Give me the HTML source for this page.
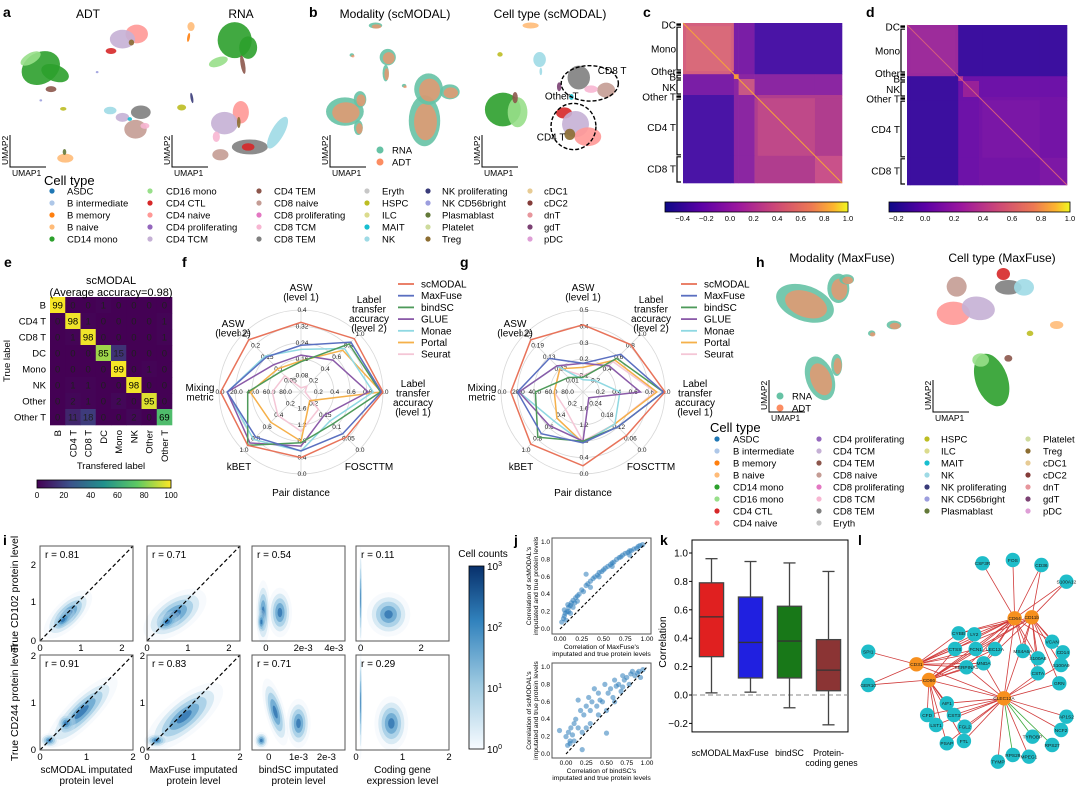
<!DOCTYPE html>
<html><head><meta charset="utf-8"><style>
html,body{margin:0;padding:0;background:#fff;}
svg{display:block;font-family:"Liberation Sans",sans-serif;}
</style></head><body>
<svg id="fig" width="1080" height="787" viewBox="0 0 1080 787" xmlns="http://www.w3.org/2000/svg">
<defs>
<linearGradient id="plasma" x1="0" x2="1" y1="0" y2="0"><stop offset="0" stop-color="#0d0887"/><stop offset="0.2" stop-color="#5c01a6"/><stop offset="0.4" stop-color="#9c179e"/><stop offset="0.6" stop-color="#cc4778"/><stop offset="0.8" stop-color="#ed7953"/><stop offset="0.92" stop-color="#fdb42f"/><stop offset="1" stop-color="#f0f921"/></linearGradient>
<linearGradient id="viridis" x1="0" x2="1" y1="0" y2="0"><stop offset="0" stop-color="#440154"/><stop offset="0.25" stop-color="#3b528b"/><stop offset="0.5" stop-color="#21918c"/><stop offset="0.75" stop-color="#5ec962"/><stop offset="1" stop-color="#fde725"/></linearGradient>
<linearGradient id="blues" x1="0" x2="0" y1="1" y2="0"><stop offset="0" stop-color="#f7fbff"/><stop offset="0.35" stop-color="#9ecae1"/><stop offset="0.7" stop-color="#3182bd"/><stop offset="1" stop-color="#08306b"/></linearGradient>
</defs>
<g font-weight="bold" font-size="14" fill="#000">
<text x="3" y="17">a</text>
<text x="309" y="17">b</text>
<text x="643" y="17">c</text>
<text x="866" y="17">d</text>
<text x="4" y="267">e</text>
<text x="182" y="267">f</text>
<text x="460" y="267">g</text>
<text x="756" y="267">h</text>
<text x="3" y="545">i</text>
<text x="514" y="545">j</text>
<text x="660" y="545">k</text>
<text x="858" y="545">l</text>
</g>
<g font-size="12" text-anchor="middle">
<text x="88" y="18">ADT</text>
<text x="241" y="18">RNA</text>
<text x="395" y="18">Modality (scMODAL)</text>
<text x="550" y="18">Cell type (scMODAL)</text>
<text x="842" y="262">Modality (MaxFuse)</text>
<text x="1002" y="262">Cell type (MaxFuse)</text>
</g>
<g id="root"></g>
</svg>
<script>
const NS='http://www.w3.org/2000/svg';
const root=document.getElementById('root');
function mk(tag,attrs,parent){const e=document.createElementNS(NS,tag);for(const k in attrs)e.setAttribute(k,attrs[k]);(parent||root).appendChild(e);return e;}
function tx(x,y,s,size,extra,parent){const e=mk('text',Object.assign({x:x,y:y,'font-size':size},extra||{}),parent);e.textContent=s;return e;}

/* ---------- DATA ---------- */
const cmLabels=['B','CD4 T','CD8 T','DC','Mono','NK','Other','Other T'];
const cmValues=[[99,0,0,1,0,0,0,0],[0,98,1,0,0,0,0,1],[0,1,98,0,0,0,0,1],[0,0,0,85,15,0,0,0],[0,0,0,0,99,0,1,0],[0,1,1,0,0,98,0,0],[0,2,1,0,2,0,95,0],[0,11,18,0,0,2,0,69]];
const radarAxes=['ASW1','LT2','LT1','FOS','Pair','kBET','Mix','ASW2'];
const methods=['scMODAL','MaxFuse','bindSC','GLUE','Monae','Portal','Seurat'];
const methodColors=['#e8735a','#5a6fc0','#4e9a5a','#8a5aa8','#8fd8e2','#f5b04a','#f4c6d6'];
const fScMODAL=[0.85,0.92,1.0,0.78,0.80,0.92,0.98,0.90];
const fMaxFuse=[0.57,0.86,0.98,0.72,0.72,0.78,0.90,0.60];
const fBindSC=[0.37,0.83,0.97,0.55,0.62,0.92,0.65,0.35];
const fGLUE=[0.45,0.55,0.82,0.40,0.66,0.88,0.90,0.47];
const fMonae=[0.52,0.75,0.88,0.50,0.72,0.82,0.90,0.62];
const fPortal=[0.38,0.72,0.98,0.15,0.60,0.52,0.62,0.40];
const fSeurat=[0.05,0.10,0.05,0.30,0.48,0.40,0.35,0.28];
const gScMODAL=[0.82,0.82,1.0,0.75,0.90,0.90,0.88,0.90];
const gMaxFuse=[0.35,0.65,0.98,0.60,0.62,0.72,0.80,0.58];
const gBindSC=[0.18,0.58,0.98,0.60,0.60,0.78,0.58,0.25];
const gGLUE=[0.35,0.45,0.70,0.10,0.60,0.58,0.78,0.45];
const gMonae=[0.15,0.20,0.45,0.55,0.62,0.50,0.78,0.45];
const gPortal=[0.30,0.55,0.90,0.55,0.62,0.45,0.35,0.40];
const gSeurat=[0.20,0.52,0.88,0.55,0.60,0.30,0.35,0.40];
const fTicks=[['0.08','0.16','0.24','0.32','0.4'],['0.2','0.4','0.6','0.8','1.0'],['0.2','0.4','0.6','0.8','1.0'],['0.2','0.15','0.1','0.05','0.0'],['1.6','1.2','0.8','0.4','0.0'],['0.2','0.4','0.6','0.8','1.0'],['80.0','60.0','40.0','20.0','0.0'],['0.05','0.1','0.15','0.2','0.25']];
const gTicks=[['0.1','0.2','0.3','0.4','0.5'],['0.2','0.4','0.6','0.8','1.0'],['0.2','0.4','0.6','0.8','1.0'],['0.24','0.18','0.12','0.06','0.0'],['1.6','1.2','0.8','0.4','0.0'],['0.2','0.4','0.6','0.8','1.0'],['80.0','60.0','40.0','20.0','0.0'],['0.01','0.07','0.13','0.19','0.25']];
const boxCats=['scMODAL','MaxFuse','bindSC','Protein-coding genes'];
const boxMin=[0.015,0.02,-0.09,-0.21];
const boxQ1=[0.27,0.12,0.12,0.03];
const boxMed=[0.55,0.37,0.38,0.175];
const boxQ3=[0.79,0.69,0.625,0.39];
const boxMax=[0.96,0.94,0.93,0.87];
const boxColors=['#e02020','#2020e0','#187818','#8b3434'];
const jTopX=[0.02,0.04,0.05,0.06,0.08,0.1,0.12,0.13,0.15,0.17,0.2,0.22,0.25,0.27,0.3,0.32,0.35,0.38,0.4,0.43,0.45,0.48,0.5,0.52,0.55,0.58,0.6,0.62,0.65,0.68,0.7,0.72,0.75,0.78,0.8,0.82,0.85,0.88,0.9,0.92,0.95,0.1,0.15,0.3,0.07,0.2,0.45,0.6,0.8,0.35,0.05,0.09,0.12,0.18];
const jTopY=[0.08,0.12,0.15,0.18,0.2,0.25,0.27,0.3,0.33,0.3,0.38,0.4,0.45,0.43,0.5,0.52,0.55,0.58,0.6,0.62,0.65,0.66,0.68,0.7,0.72,0.74,0.76,0.77,0.8,0.82,0.83,0.85,0.87,0.88,0.9,0.9,0.92,0.93,0.95,0.96,0.97,0.2,0.25,0.63,0.1,0.32,0.6,0.72,0.85,0.48,0.22,0.28,0.18,0.36];
const jBotX=[-0.08,0.0,0.02,0.03,0.05,0.06,0.08,0.1,0.12,0.15,0.18,0.2,0.22,0.25,0.28,0.3,0.32,0.35,0.38,0.4,0.42,0.45,0.48,0.5,0.52,0.55,0.58,0.6,0.62,0.65,0.68,0.7,0.72,0.75,0.78,0.8,0.82,0.85,0.88,0.9,0.2,0.5,0.1,0.3,0.4,0.6,0.7,0.15,0.25,0.05,0.92,0.95];
const jBotY=[0.27,0.2,0.1,0.25,0.15,0.3,0.22,0.35,0.4,0.3,0.5,0.05,0.45,0.55,0.65,0.5,0.6,0.75,0.55,0.7,0.62,0.6,0.8,0.24,0.7,0.75,0.65,0.85,0.78,0.8,0.72,0.9,0.85,0.88,0.8,0.92,0.95,0.9,0.93,0.95,0.25,0.5,0.15,0.35,0.45,0.6,0.77,0.62,0.3,0.12,0.88,0.97];
const rValues=['r = 0.81','r = 0.71','r = 0.54','r = 0.11','r = 0.91','r = 0.83','r = 0.71','r = 0.29'];
const cellTypes=['ASDC','B intermediate','B memory','B naive','CD14 mono','CD16 mono','CD4 CTL','CD4 naive','CD4 proliferating','CD4 TCM','CD4 TEM','CD8 naive','CD8 proliferating','CD8 TCM','CD8 TEM','Eryth','HSPC','ILC','MAIT','NK','NK proliferating','NK CD56bright','Plasmablast','Platelet','Treg','cDC1','cDC2','dnT','gdT','pDC'];
const cellColors=['#1f77b4','#aec7e8','#ff7f0e','#ffbb78','#2ca02c','#98df8a','#d62728','#ff9896','#9467bd','#c5b0d5','#8c564b','#c49c94','#e377c2','#f7b6d2','#7f7f7f','#c7c7c7','#bcbd22','#dbdb8d','#17becf','#9edae5','#393b79','#9c9ede','#637939','#cedb9c','#8c6d31','#e7cb94','#843c39','#e7969c','#7b4173','#de9ed6'];

/* ---------- UMAP blobs (decorative) ---------- */
const TEAL='#66c2a5',ORG='#fc8d62';
function blob(cx,cy,rx,ry,col,rot,name){
  const e=mk('ellipse',{cx:cx,cy:cy,rx:rx,ry:ry,fill:col,'fill-opacity':0.9,transform:'rotate('+(rot||0)+' '+cx+' '+cy+')'});
  
  
  return e;
}
function blobsZ8(list){list.forEach(b=>blob(b[0]/2.45,b[1]/2.94,b[2]/2.45*1.1,b[3]/2.94*1.1,b[4],b[5]));}
blobsZ8([[100,200,45,42,'#2ca02c',-30],[75,172,25,14,'#98df8a',-30],[135,215,32,22,'#2ca02c',20],[125,262,12,8,'#8c564b',0],
[335,100,25,25,'#ff9896',0],[300,115,28,25,'#c5b0d5',0],[272,150,12,8,'#d62728',0],[322,125,6,8,'#8c6d31',0],
[270,325,14,10,'#9edae5',0],[345,330,22,18,'#7f7f7f',0],[332,380,25,25,'#c49c94',0],[355,370,10,8,'#f7b6d2',0],[300,345,15,12,'#c5b0d5',0],[318,350,5,5,'#17becf',0],
[155,320,7,5,'#bcbd22',0],[160,465,18,12,'#ffbb78',0],[158,447,4,8,'#637939',0],[100,295,3,3,'#9c9ede',0],[238,212,3,3,'#9c9ede',0],
[468,78,8,12,'#ffbb78',0],[462,110,3,12,'#ff7f0e',10],[575,118,38,48,'#2ca02c',0],[608,140,20,30,'#2ca02c',0],[535,182,22,12,'#98df8a',-20],[595,190,5,25,'#8c564b',-10],
[445,316,10,8,'#bcbd22',0],[470,288,3,14,'#393b79',-10],[590,330,18,30,'#ff9896',0],[550,362,30,30,'#c5b0d5',0],[585,360,4,15,'#8c6d31',0],[612,432,40,20,'#7f7f7f',0],[608,432,14,10,'#d62728',0],[540,455,18,15,'#c49c94',0],[680,390,14,48,'#9edae5',30],[530,402,8,14,'#f7b6d2',0],
[1300,75,18,8,'#ffbb78',0],[1225,160,6,6,'#bcbd22',0],[1322,175,14,20,'#9edae5',0],[1325,210,3,10,'#9edae5',0],[1232,322,40,45,'#2ca02c',0],[1268,330,22,40,'#98df8a',0],[1262,287,6,15,'#8c564b',0],
[1418,228,25,32,'#7f7f7f',0],[1485,265,20,20,'#c49c94',0],[1448,262,15,10,'#f7b6d2',0],[1382,332,18,15,'#d62728',0],[1410,365,30,35,'#c5b0d5',0],[1440,402,30,25,'#ff9896',0],[1396,395,12,15,'#8c6d31',0],[1370,255,5,12,'#7b4173',0],[1400,285,5,8,'#17becf',0]]);
[[920,75,15,8],[862,162,5,5],[950,168,18,22],[945,215,7,22],[845,328,42,38],[882,292,14,22],[1040,355,35,68],[1050,262,32,42],[1102,270,22,20],[990,252,5,5],[878,375,10,20]].forEach((b,i)=>{
  blob(b[0]/2.45,b[1]/2.94,b[2]/2.45*1.1,b[3]/2.94*1.1,TEAL,0,'modality-cluster-rna');
  blob(b[0]/2.45+1,b[1]/2.94+1,b[2]/2.45*0.8,b[3]/2.94*0.8,ORG,0,'modality-cluster-adt').setAttribute('fill-opacity',0.7);
});
let d1=mk('ellipse',{cx:1445/2.45,cy:245/2.94,rx:70/2.45,ry:52/2.94,fill:'none',stroke:'#000','stroke-width':1.4,'stroke-dasharray':'4 2'});


let d2=mk('ellipse',{cx:1405/2.45,cy:372/2.94,rx:55/2.45,ry:68/2.94,fill:'none',stroke:'#000','stroke-width':1.4,'stroke-dasharray':'4 2'});


let t;
t=tx(1445/2.45+8,218/2.94,'CD8 T',10);
t=tx(1335/2.45,293/2.94,'Other T',10);
t=tx(1315/2.45,413/2.94,'CD4 T',10);
function blobsZ5(list){list.forEach(b=>blob(690+b[0]/3,250+b[1]/3,b[2]/3,b[3]/3,b[4],b[5]));}
[[345,160,82,48,20],[445,115,30,40,0],[470,88,20,14,0],[612,225,20,12,0],[545,250,10,8,0],[390,385,38,62,-20],[440,345,15,30,0]].forEach(b=>{
  blob(690+b[0]/3,250+b[1]/3,b[2]/3*1.1,b[3]/3*1.1,TEAL,b[4],'modality-cluster-rna');
  blob(690+b[0]/3+1,250+b[1]/3+1,b[2]/3*0.8,b[3]/3*0.8,ORG,b[4],'modality-cluster-adt').setAttribute('fill-opacity',0.7);
});
blobsZ5([[800,110,30,30,'#c49c94',0],[790,190,50,35,'#ff9896',0],[865,175,50,35,'#c5b0d5',10],[940,72,20,18,'#d62728',0],[955,112,40,22,'#7f7f7f',0],[1002,112,30,25,'#9edae5',0],[1100,225,20,12,'#ffbb78',0],[1020,250,10,8,'#bcbd22',0],[905,390,48,82,'#2ca02c',-20],[872,330,25,20,'#98df8a',0],[955,325,12,10,'#8c564b',0]]);

function umapAxes(x,y,name){
  const p=mk('path',{d:'M'+x+' '+(y-32)+' V'+y+' H'+(x+36),fill:'none',stroke:'#000','stroke-width':1});
  
  
  let a=tx(x+2,y+9,'UMAP1',8.5);
  let b=tx(x-2,y-2,'UMAP2',8.5,{transform:'rotate(-90 '+(x-2)+' '+(y-2)+')'});
}
umapAxes(10,167,'umap-adt');umapAxes(172,167,'umap-rna');umapAxes(330,167,'umap-modality');umapAxes(482,167,'umap-celltype');
umapAxes(769,412,'umap-h-modality');umapAxes(933,412,'umap-h-celltype');
function modLeg(x,y,name){
  let c1=mk('circle',{cx:x,cy:y,r:3.5,fill:TEAL});
  let c2=mk('circle',{cx:x,cy:y+12,r:3.5,fill:ORG});
  let a=tx(x+12,y+3.5,'RNA',9.5);
  let b=tx(x+12,y+15.5,'ADT',9.5);
}
modLeg(380,150,'legend-modality-b');modLeg(780,396,'legend-modality-h');

t=tx(44,185,'Cell type',13);
const legAdots=[52,150,259,367,428,530],legAtext=[67,166,274,382,442,544];
cellTypes.forEach((n,i)=>{
  const col=Math.floor(i/5),row=i%5;
  const c=mk('circle',{cx:legAdots[col],cy:194+row*12-3,r:2.6,fill:cellColors[i]});
  
  
  const l=tx(legAtext[col],194+row*12+0.5,n,9.5);
  
  
});
t=tx(710,432,'Cell type',13);
const legHdots=[717,819,927,1028],legHtext=[733,833,941,1043],legHcount=[8,8,7,7];
let idx=0;
legHcount.forEach((cnt,col)=>{for(let r=0;r<cnt;r++){const i=idx++;
  const c=mk('circle',{cx:legHdots[col],cy:442+r*12-3,r:2.6,fill:cellColors[i]});
  
  
  const l=tx(legHtext[col],442+r*12+0.5,cellTypes[i],9.5);
  
  
}});

/* ---------- c / d heatmaps ---------- */
const hmBounds=[0,0.02,0.30,0.32,0.35,0.45,0.47,0.83,1.0];
const hmGroups=['DC','Mono','Other','B','NK','Other T','CD4 T','CD8 T'];
const cCol={mm:'#d4607f',ml:'#4a14a6',mb:'#7a1ea6',bb:'#8b26a2',tt:'#b03d8e',diag:{B:'#f3913e',NK:'#c85785','CD4 T':'#bf4989','CD8 T':'#c9518a',Other:'#a33196','Other T':'#a33196',DC:'#d4607f',Mono:'#d96a7a'},line:'#f6a23a'};
const dCol={mm:'#9a2a9c',ml:'#3c0f9f',mb:'#3c0f9f',bb:'#6d12a8',tt:'#7414a6',diag:{B:'#b4358e',NK:'#982199','CD4 T':'#7a17a6','CD8 T':'#7d18a5',Other:'#7414a6','Other T':'#7414a6',DC:'#9a2a9c',Mono:'#9d2c9b'},line:'#d55c7d'};
function heat(x0,y0,w,h,C,name){
  const grp=i=>i<3?'m':(i<5?'b':'t');
  for(let i=0;i<8;i++)for(let j=0;j<8;j++){
    const gi=grp(i),gj=grp(j);let col;
    if(i===j)col=C.diag[hmGroups[i]];
    else if(gi==='m'&&gj==='m')col=C.mm;
    else if(gi==='m'||gj==='m'){col=(gi==='b'||gj==='b')?C.mb:C.ml;}
    else if(gi==='t'&&gj==='t')col=C.tt;else col=C.bb;
    const r=mk('rect',{x:x0+hmBounds[j]*w,y:y0+hmBounds[i]*h,width:(hmBounds[j+1]-hmBounds[j])*w+0.3,height:(hmBounds[i+1]-hmBounds[i])*h+0.3,fill:col});
    
    
  }
  const dl=mk('line',{x1:x0,y1:y0,x2:x0+w,y2:y0+h,stroke:C.line,'stroke-width':1});
  
  
  for(let i=0;i<8;i++){
    const ya=y0+hmBounds[i]*h+1,yb=y0+hmBounds[i+1]*h-1;
    const br=mk('path',{d:'M'+(x0-2)+' '+ya+' H'+(x0-6)+' V'+yb+' H'+(x0-2),fill:'none',stroke:'#000','stroke-width':1.2});
    
    
  }
  const lp=[0.01,0.16,0.30,0.335,0.40,0.46,0.65,0.91];
  hmGroups.forEach((g,i)=>{const l=tx(x0-7,y0+lp[i]*h+4,g,10,{'text-anchor':'end'});
    
    });
}
heat(683,23,159,160,cCol,'heatmap-c');
heat(907,25,160,160,dCol,'heatmap-d');
function cbar(x,y,w,ticks,lo,hi,name){
  const r=mk('rect',{x:x,y:y,width:w,height:10,fill:'url(#plasma)',stroke:'#000','stroke-width':0.8});
  
  
  ticks.forEach(v=>{const px=x+(v-lo)/(hi-lo)*w;
    const l=tx(px,y+19,(v<0?'\u2212':'')+Math.abs(v).toFixed(1),7.5,{'text-anchor':'middle'});
    
    });
}
cbar(665,202,183,[-0.4,-0.2,0,0.2,0.4,0.6,0.8,1.0],-0.55,1.0,'colorbar-c');
cbar(889,202,181,[-0.2,0,0.2,0.4,0.6,0.8,1.0],-0.25,1.0,'colorbar-d');

/* ---------- e confusion matrix ---------- */
const vir=['#440154','#3b528b','#21918c','#5ec962','#fde725'];
function hex(h){return [1,3,5].map(i=>parseInt(h.substr(i,2),16));}
function viridis(t){t=Math.max(0,Math.min(1,t))*4;const i=Math.min(3,Math.floor(t)),f=t-i;const a=hex(vir[i]),b=hex(vir[i+1]);return 'rgb('+a.map((v,k)=>Math.round(v+(b[k]-v)*f)).join(',')+')';}
const ex0=50,ey0=297,ecw=15.25,ech=16;
cmValues.forEach((row,i)=>row.forEach((v,j)=>{
  const r=mk('rect',{x:ex0+j*ecw,y:ey0+i*ech,width:ecw+0.3,height:ech+0.3,fill:viridis(v/100)});
  
  
  const l=tx(ex0+j*ecw+ecw/2,ey0+i*ech+ech/2+3.5,String(v),9.5,{'text-anchor':'middle',fill:v>50?'#000':'#1f1f1f'});
  
  
}));
cmLabels.forEach((n,i)=>{
  const l=tx(ex0-4,ey0+i*ech+ech/2+3.5,n,9.5,{'text-anchor':'end'});
  
  
  const cx=ex0+i*ecw+ecw/2+3.5,cy=ey0+8*ech+5;
  const c=tx(cx,cy,n,9.5,{'text-anchor':'end',transform:'rotate(-90 '+cx+' '+cy+')'});
  
  
});
t=tx(111,284,'scMODAL',11,{'text-anchor':'middle'});
t=tx(111,296,'(Average accuracy=0.98)',11,{'text-anchor':'middle'});
t=tx(10,361,'True label',9.5,{'text-anchor':'middle',transform:'rotate(-90 10 361)'});
t=tx(111,469,'Transfered label',9.5,{'text-anchor':'middle'});
let ecb=mk('rect',{x:37,y:480,width:134,height:8,fill:'url(#viridis)',stroke:'#000','stroke-width':0.8});


[0,20,40,60,80,100].forEach(v=>{const l=tx(37+v/100*134,498,String(v),8,{'text-anchor':'middle'});
  
  });

/* ---------- radar f & g ---------- */
const axLabels=[['ASW','(level 1)'],['Label','transfer','accuracy','(level 2)'],['Label','transfer','accuracy','(level 1)'],['FOSCTTM'],['Pair distance'],['kBET'],['Mixing','metric'],['ASW','(level 2)']];
const axLabTop=[[0,-101],[68,-89],[112,-5],[68,78],[0,104],[-62,78],[-101,-1],[-68,-65]];
function radar(cx,cy,R,series,ticks,name){
  [0.2,0.4,0.6,0.8,1.0].forEach(f=>{const c=mk('circle',{cx:cx,cy:cy,r:R*f,fill:'none',stroke:'#d8d8d8','stroke-width':0.8});
    });
  for(let k=0;k<8;k++){
    const a=-Math.PI/2+k*Math.PI/4,ux=Math.cos(a),uy=Math.sin(a);
    const ln=mk('line',{x1:cx,y1:cy,x2:cx+R*ux,y2:cy+R*uy,stroke:'#d8d8d8','stroke-width':0.8});
    
    ticks[k].forEach((s,q)=>{const f=(q+1)*0.2;const l=tx(cx+R*f*ux+1,cy+R*f*uy+2,s,6.5,{'text-anchor':'middle',fill:'#222'});
      });
    axLabels[k].forEach((s,q)=>{const l=tx(cx+axLabTop[k][0],cy+axLabTop[k][1]+q*9.5,s,10,{'text-anchor':'middle'});
      });
  }
  for(let m=series.length-1;m>=0;m--){
    const vals=series[m];
    const pts=vals.map((v,k)=>{const a=-Math.PI/2+k*Math.PI/4;return (cx+R*v*Math.cos(a)).toFixed(1)+','+(cy+R*v*Math.sin(a)).toFixed(1);});
    const p=mk('polygon',{points:pts.join(' '),fill:'none',stroke:methodColors[m],'stroke-width':1.5});
    
    
  }
}
radar(301,392,82,[fScMODAL,fMaxFuse,fBindSC,fGLUE,fMonae,fPortal,fSeurat],fTicks,'radar-f');
radar(583,392,82,[gScMODAL,gMaxFuse,gBindSC,gGLUE,gMonae,gPortal,gSeurat],gTicks,'radar-g');
function methLegend(x,y,name){
  methods.forEach((m,i)=>{
    const l=mk('line',{x1:x,y1:y+i*11.7-3,x2:x+16,y2:y+i*11.7-3,stroke:methodColors[i],'stroke-width':1.8});
    
    const tt=tx(x+23,y+i*11.7+0.5,m,10);
    
  });
}
methLegend(398,287,'legend-f');methLegend(681,287,'legend-g');

/* ---------- i density panels ---------- */
const iCols=[40,147,252,356],iW=93,iRows=[[546,641],[655,750]];
const iBlobs=[
 [[[0.3,0.72,0.26,0.11,-45],[0.25,0.78,0.12,0.06,-45]],[[0.3,0.72,0.3,0.15,-35],[0.22,0.8,0.12,0.07,-35]],[[0.12,0.7,0.06,0.26,0],[0.3,0.7,0.1,0.2,0],[0.1,0.8,0.04,0.1,0]],[[0.05,0.55,0.012,0.42,0],[0.35,0.72,0.18,0.18,0]]],
 [[[0.45,0.6,0.4,0.12,-45],[0.1,0.9,0.08,0.06,0],[0.28,0.72,0.08,0.08,0]],[[0.4,0.65,0.4,0.15,-40],[0.1,0.9,0.1,0.06,0]],[[0.1,0.9,0.06,0.07,0],[0.25,0.6,0.08,0.28,-15],[0.5,0.72,0.1,0.2,0]],[[0.05,0.5,0.012,0.46,0],[0.38,0.72,0.14,0.22,0]]]
];
for(let r=0;r<2;r++)for(let c=0;c<4;c++){
  const x0=iCols[c],y0=iRows[r][0],h=iRows[r][1]-y0;
  const g=mk('g',{});
  iBlobs[r][c].forEach(b=>{
    const bx=x0+b[0]*iW,by=y0+b[1]*h;
    [[1.3,0.25,'#deebf7'],[1,0.35,'#9ecae1'],[0.75,0.4,'#6baed6'],[0.5,0.45,'#3182bd'],[0.25,0.5,'#08519c']].forEach(s=>{
      const e=mk('ellipse',{cx:bx,cy:by,rx:b[2]*iW*s[0],ry:b[3]*h*s[0],fill:s[2],'fill-opacity':s[1],transform:'rotate('+b[4]+' '+bx+' '+by+')'},g);
      
    });
  });
  if(c<2){const dl=mk('line',{x1:x0,y1:y0+h,x2:x0+iW,y2:y0,stroke:'#000','stroke-width':1.2,'stroke-dasharray':'4 2.5'});
    }
  const fr=mk('rect',{x:x0,y:y0,width:iW,height:h,fill:'none',stroke:'#555','stroke-width':1});
  
  const rl=tx(x0+5,y0+12,rValues[r*4+c],10);
}
function itick(x,y,s,anchor){const l=tx(x,y,s,9.5,{'text-anchor':anchor||'middle'});}
[['0',0],['1',0.44],['2',0.88]].forEach(a=>{itick(40+a[1]*93,651,a[0]);itick(147+a[1]*93,651,a[0]);});
[['0',0.15],['2e-3',0.55],['4e-3',0.88]].forEach(a=>itick(252+a[1]*93,651,a[0]));
[['0',0.05],['2',0.7]].forEach(a=>itick(356+a[1]*93,651,a[0]));
[['0',0],['1',0.5],['2',1]].forEach(a=>{itick(40+a[1]*93,760,a[0]);itick(147+a[1]*93,760,a[0]);itick(356+a[1]*93,760,a[0]);});
[['0',0.18],['1e-3',0.5],['2e-3',0.8]].forEach(a=>itick(252+a[1]*93,760,a[0]));
itick(36,644,'0','end');itick(36,605,'1','end');itick(36,568,'2','end');
itick(36,753,'0','end');itick(36,706,'1','end');itick(36,659,'2','end');itick(145,706,'1','end');itick(145,659,'2','end');itick(145,753,'0','end');
t=tx(18,594,'True CD102 protein level',10.5,{'text-anchor':'middle',transform:'rotate(-90 18 594)'});
t=tx(18,703,'True CD244 protein level',10.5,{'text-anchor':'middle',transform:'rotate(-90 18 703)'});
[['scMODAL imputated','protein level'],['MaxFuse imputated','protein level'],['bindSC imputated','protein level'],['Coding gene','expression level']].forEach((p,c)=>{
  const a=tx(iCols[c]+iW/2,773,p[0],10,{'text-anchor':'middle'});
  const b=tx(iCols[c]+iW/2,784,p[1],10,{'text-anchor':'middle'});
});
let icb=mk('rect',{x:469,y:566,width:15,height:183,fill:'url(#blues)',stroke:'#000','stroke-width':0.8});

t=tx(483,557,'Cell counts',10,{'text-anchor':'middle'});
['3','2','1','0'].forEach((e,k)=>{const y=566+k*61;
  const l=mk('text',{x:487,y:y+4,'font-size':10});l.innerHTML='10<tspan font-size="7" dy="-4">'+e+'</tspan>';
  });

/* ---------- j scatter ---------- */
function scatter(box,xs,ys,x0,x1,y0p,y1p,xl,name){
  const sx=v=>x0+v*(x1-x0), sy=v=>y0p+v*(y1p-y0p);
  const fr=mk('rect',{x:box[0],y:box[1],width:box[2],height:box[3],fill:'none',stroke:'#555','stroke-width':1});
  
  xs.forEach((v,i)=>{const c=mk('circle',{cx:sx(v),cy:sy(ys[i]),r:2.6,fill:'#2b7bba','fill-opacity':0.55});
    });
  const dl=mk('line',{x1:sx(0),y1:sy(0),x2:sx(1),y2:sy(1),stroke:'#000','stroke-width':1.1,'stroke-dasharray':'3 2'});
  
  ['0.00','0.25','0.50','0.75','1.00'].forEach((s,k)=>{
    const a=tx(sx(k*0.25),box[1]+box[3]+7,s,6.5,{'text-anchor':'middle'});});
  ['0.0','0.2','0.4','0.6','0.8','1.0'].forEach((s,k)=>{
    const a=tx(box[0]-2,sy(k*0.2)+2,s,6.5,{'text-anchor':'end'});});
  const l1=tx(box[0]+box[2]/2,box[1]+box[3]+15,xl,6.8,{'text-anchor':'middle'});
  const l2=tx(box[0]+box[2]/2,box[1]+box[3]+22,'imputated and true protein levels',6.8,{'text-anchor':'middle'});
  const yc=box[1]+box[3]/2;
  const y1=tx(box[0]-21,yc,"Correlation of scMODAL's",6.8,{'text-anchor':'middle',transform:'rotate(-90 '+(box[0]-21)+' '+yc+')'});
  const y2=tx(box[0]-14,yc,'imputated and true protein levels',6.8,{'text-anchor':'middle',transform:'rotate(-90 '+(box[0]-14)+' '+yc+')'});
}
scatter([552,538,99,96],jTopX,jTopY,560,647,629,542,"Correlation of MaxFuse's",'scatter-maxfuse');
scatter([552,663,99,95],jBotX,jBotY,566,647,754,667,"Correlation of bindSC's",'scatter-bindsc');

/* ---------- k box plot ---------- */
const kx0=692,kx1=848,ky=v=>695-v*(695-553)/1.0;
let kf=mk('rect',{x:kx0,y:540,width:kx1-kx0,height:ky(-0.26)-540,fill:'none',stroke:'#000','stroke-width':1});

let kz=mk('line',{x1:kx0,y1:ky(0),x2:kx1,y2:ky(0),stroke:'#888','stroke-width':1,'stroke-dasharray':'5 3'});

[-0.2,0,0.2,0.4,0.6,0.8,1.0].forEach(v=>{
  const l=tx(kx0-4,ky(v)+3.5,(v<0?'\u2212':'')+Math.abs(v).toFixed(1),10,{'text-anchor':'end'});
  
  const tk=mk('line',{x1:kx0-3,y1:ky(v),x2:kx0,y2:ky(v),stroke:'#000'});
});
t=tx(666,642,'Correlation',10.5,{'text-anchor':'middle',transform:'rotate(-90 666 642)'});
const kstep=(kx1-kx0)/4;
boxCats.forEach((c,i)=>{
  const cx=kx0+kstep*(i+0.5),bw=kstep*0.62;
  const w=mk('line',{x1:cx,y1:ky(boxMin[i]),x2:cx,y2:ky(boxMax[i]),stroke:'#444','stroke-width':1.3});
  
  [boxMin[i],boxMax[i]].forEach(v=>{const cp=mk('line',{x1:cx-bw/4,y1:ky(v),x2:cx+bw/4,y2:ky(v),stroke:'#444','stroke-width':1.3});
    });
  const b=mk('rect',{x:cx-bw/2,y:ky(boxQ3[i]),width:bw,height:ky(boxQ1[i])-ky(boxQ3[i]),fill:boxColors[i],stroke:'#444','stroke-width':1.3});
  
  const m=mk('line',{x1:cx-bw/2,y1:ky(boxMed[i]),x2:cx+bw/2,y2:ky(boxMed[i]),stroke:'#333','stroke-width':1.3});
  
});
t=tx(kx0+kstep*0.5,756,'scMODAL',8.8,{'text-anchor':'middle'});
t=tx(kx0+kstep*1.5,756,'MaxFuse',8.8,{'text-anchor':'middle'});
t=tx(kx0+kstep*2.5,756,'bindSC',8.8,{'text-anchor':'middle'});
t=tx(kx0+kstep*3.5,756,'Protein-',8.8,{'text-anchor':'middle'});
t=tx(kx0+kstep*3.5+3,766,'coding genes',8.8,{'text-anchor':'middle'});

/* ---------- l network ---------- */
const nodes={CSF3R:[1295,100],FOS:[1380,90],CD36:[1460,105],S100A12:[1530,155],CD64:[1385,265,1],CD11b:[1433,262,1],CYBB:[1228,310],LY2:[1272,313],VCAN:[1490,335],CD14:[1520,367],CTSS:[1218,357],FCN1:[1276,357],LEC12A:[1330,357],MS4A6A:[1408,363],S100A8:[1450,385],S100A9:[1515,405],SPI1:[975,365],CD31:[1110,403,1],SERPINA1:[1250,412],MNDA:[1298,400],CSTA:[1450,430],CD86:[1145,450,1],GER10:[975,465],GRN:[1510,460],CLEC12A:[1355,505,1],AIF1:[1195,520],CFD:[1140,555],CST3:[1215,555],LST1:[1165,585],FGL2:[1245,590],AP1S2:[1530,560],NCF2:[1515,600],FTL:[1243,633],PSAP:[1195,640],TYROBP:[1435,620],RPS27:[1490,645],RPS29:[1380,675],MPEG1:[1425,680],TYMP:[1338,695]};
const NX=z=>520+z/2.8, NY=z=>530+z/3;
const edges=[['CD64','CSF3R'],['CD64','FOS'],['CD64','CD36'],['CD64','S100A12'],['CD11b','S100A12'],['CD11b','CD36'],['CD64','CYBB'],['CD64','LY2'],['CD64','CTSS'],['CD64','FCN1'],['CD64','LEC12A'],['CD64','MS4A6A'],['CD64','S100A8'],['CD64','MNDA'],['CD64','SERPINA1'],['CD64','CD31'],['CD64','CD86'],['CD64','CSTA'],['CD64','VCAN'],['CD11b','VCAN'],['CD11b','CD14'],['CD11b','S100A9'],['CD11b','S100A8'],['CD11b','CSTA'],['CD11b','GRN'],['CD11b','MS4A6A'],['CD11b','FCN1'],['CD11b','CD31'],['CD11b','CD86'],['CD11b','CYBB'],['CD11b','MNDA'],['CD31','SPI1'],['CD31','GER10'],['CD31','CTSS'],['CD31','CYBB'],['CD31','LY2'],['CD31','FCN1'],['CD31','SERPINA1'],['CD31','MNDA'],['CD31','LEC12A'],['CD86','GER10'],['CD86','CTSS'],['CD86','FCN1'],['CD86','SERPINA1'],['CD86','MNDA'],['CD86','LEC12A'],['CD86','AIF1'],['CD86','CFD'],['CD86','CST3'],['CD86','LST1'],['CD86','FGL2'],['CD86','PSAP'],['CD86','FTL'],['CD86','CLEC12A'],['CLEC12A','CD64'],['CLEC12A','CD11b'],['CLEC12A','MNDA'],['CLEC12A','SERPINA1'],['CLEC12A','CSTA'],['CLEC12A','GRN'],['CLEC12A','S100A9'],['CLEC12A','AIF1'],['CLEC12A','CFD'],['CLEC12A','CST3'],['CLEC12A','FGL2'],['CLEC12A','FTL'],['CLEC12A','PSAP'],['CLEC12A','AP1S2'],['CLEC12A','NCF2'],['CLEC12A','TYMP'],['CLEC12A','MPEG1'],['CLEC12A','CD31'],['CLEC12A','LST1']];
const greenEdges=[['CLEC12A','RPS29'],['CLEC12A','TYROBP'],['CLEC12A','RPS27']];
edges.concat(greenEdges).forEach((e,i)=>{
  const a=nodes[e[0]],b=nodes[e[1]];
  const l=mk('line',{x1:NX(a[0]),y1:NY(a[1]),x2:NX(b[0]),y2:NY(b[1]),stroke:i>=edges.length?'#3aa83a':'#d03a3a','stroke-width':0.8});
  
  
});
Object.keys(nodes).forEach(k=>{
  const n=nodes[k];
  const c=mk('circle',{cx:NX(n[0]),cy:NY(n[1]),r:7.2,fill:n[2]?'#f7901e':'#1fbdc9'});
  
  
  const l=tx(NX(n[0]),NY(n[1])+1.8,k,4.8,{'text-anchor':'middle',fill:'#1a1a1a'});
  
  
});
</script>
</body></html>
